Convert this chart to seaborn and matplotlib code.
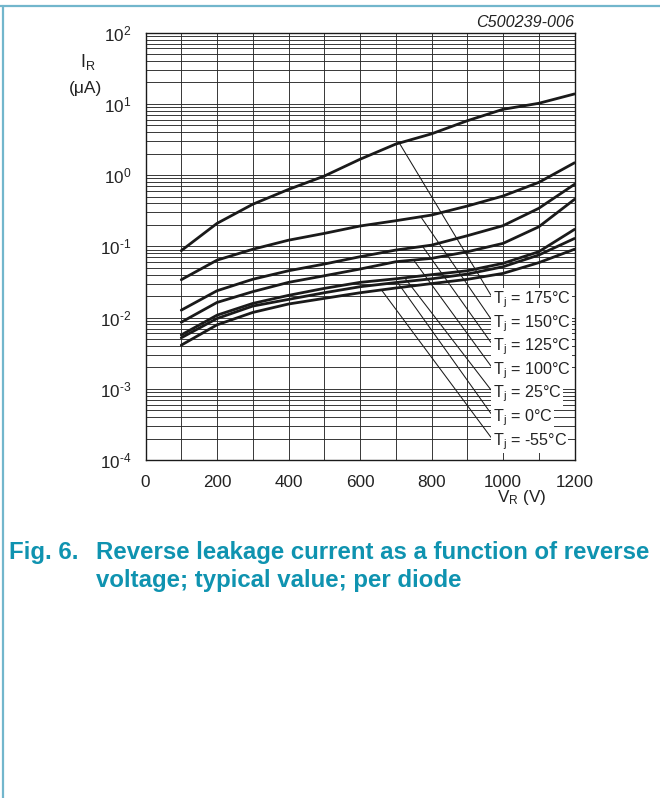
import numpy as np
import pandas as pd
import matplotlib
matplotlib.use("Agg")
import matplotlib.pyplot as plt
from matplotlib.ticker import MultipleLocator, LogLocator, NullFormatter, FixedLocator, FixedFormatter
from matplotlib.lines import Line2D
import seaborn as sns

# ---------------- data ----------------
voltage = [100, 200, 300, 400, 500, 600, 700, 800, 900, 1000, 1100, 1200]
ir_175 = [0.087, 0.21, 0.39, 0.63, 0.97, 1.67, 2.73, 3.8, 5.8, 8.4, 10.2, 13.8]
ir_150 = [0.034, 0.064, 0.091, 0.122, 0.152, 0.193, 0.229, 0.275, 0.368, 0.509, 0.79, 1.49]
ir_125 = [0.0127, 0.0238, 0.0345, 0.0454, 0.0564, 0.0715, 0.0887, 0.104, 0.141, 0.195, 0.342, 0.743]
ir_100 = [0.0086, 0.0163, 0.0231, 0.0312, 0.0386, 0.048, 0.0608, 0.0678, 0.0839, 0.110, 0.188, 0.457]
ir_25 = [0.0057, 0.0108, 0.0158, 0.0205, 0.0257, 0.0312, 0.035, 0.040, 0.0454, 0.0577, 0.084, 0.173]
ir_0 = [0.0052, 0.0097, 0.0145, 0.018, 0.0223, 0.0271, 0.031, 0.035, 0.0408, 0.0517, 0.0755, 0.129]
ir_m55 = [0.0041, 0.0079, 0.0118, 0.0155, 0.0186, 0.0223, 0.026, 0.030, 0.0344, 0.0417, 0.059, 0.091]

temps = ["175", "150", "125", "100", "25", "0", "-55"]
series = [ir_175, ir_150, ir_125, ir_100, ir_25, ir_0, ir_m55]
# voltage where each leader line touches its curve
leader_v = [710, 770, 775, 750, 725, 705, 660]

x_ticks = [0, 200, 400, 600, 800, 1000, 1200]
y_ticks = [1e-4, 1e-3, 1e-2, 1e-1, 1e0, 1e1, 1e2]
y_ticklabels = [r"$10^{\text{-4}}$", r"$10^{\text{-3}}$", r"$10^{\text{-2}}$", r"$10^{\text{-1}}$",
                r"$10^{0}$", r"$10^{1}$", r"$10^{2}$"]

caption_1 = "Fig. 6."
caption_2 = "Reverse leakage current as a function of reverse"
caption_3 = "voltage; typical value; per diode"
code_label = "C500239-006"

# ---------------- style ----------------
sns.set_style("white")
plt.rcParams["font.family"] = ["Liberation Sans", "DejaVu Sans"]
plt.rcParams["mathtext.fontset"] = "custom"
plt.rcParams["mathtext.rm"] = "Liberation Sans"
plt.rcParams["mathtext.it"] = "Liberation Sans:italic"
plt.rcParams["mathtext.default"] = "regular"

W, H = 660, 798
fig = plt.figure(figsize=(W / 100, H / 100), dpi=100)
fig.patch.set_facecolor("white")

x0, x1, ytop, ybot = 145.5, 574.5, 32.7, 460.0
ax = fig.add_axes([x0 / W, 1 - ybot / H, (x1 - x0) / W, (ybot - ytop) / H])

df = pd.concat([pd.DataFrame({"V": voltage, "I": s, "T": t}) for t, s in zip(temps, series)])
sns.lineplot(data=df, x="V", y="I", hue="T", hue_order=temps,
             palette=["#1a1a1a"] * len(temps), linewidth=2.0, legend=False, ax=ax, zorder=3)

ax.set_yscale("log")
ax.set_xlim(0, 1200)
ax.set_ylim(1e-4, 1e2)

ax.xaxis.set_major_locator(FixedLocator(x_ticks))
ax.xaxis.set_minor_locator(MultipleLocator(100))
ax.yaxis.set_major_locator(FixedLocator(y_ticks))
ax.yaxis.set_major_formatter(FixedFormatter(y_ticklabels))
ax.yaxis.set_minor_locator(LogLocator(base=10, subs=np.arange(2, 10)))
ax.yaxis.set_minor_formatter(NullFormatter())

ax.grid(True, which="both", color="#2a2a2a", linewidth=0.65)
ax.tick_params(which="both", length=0, labelsize=12.3, colors="#222222")
ax.tick_params(axis="x", pad=10.5)
ax.tick_params(axis="y", pad=10)
for sp in ax.spines.values():
    sp.set_color("#1a1a1a")
    sp.set_linewidth(1.0)
ax.set_xlabel("")
ax.set_ylabel("")

# leader lines + labels
label_y_px = [300.0, 323.3, 346.8, 370.3, 394.0, 417.8, 441.5]
for t, s, lv, ly in zip(temps, series, leader_v, label_y_px):
    iy = 10 ** np.interp(lv, voltage, np.log10(s))
    yf = (ybot - ly) / (ybot - ytop)
    ax.annotate(r"$T_j$ = " + t + "°C", xy=(lv, iy), xycoords="data",
                xytext=(0.809, yf), textcoords="axes fraction",
                ha="left", va="center", fontsize=11.6, color="#222222",
                bbox=dict(boxstyle="square,pad=0.1", fc="white", ec="none"),
                arrowprops=dict(arrowstyle="-", lw=0.75, color="#1a1a1a",
                                shrinkA=0, shrinkB=0, relpos=(0, 0.6)),
                zorder=5)

# axis titles
fig.text(80 / W, 1 - 62 / H, r"$I_R$", fontsize=13, color="#222222", ha="left", va="center")
fig.text(85 / W, 1 - 88 / H, "(μA)", fontsize=12.5, color="#222222", ha="center", va="center")
fig.text(522 / W, 1 - 497 / H, r"$V_R$ (V)", fontsize=12.3, color="#222222", ha="center", va="center")
fig.text(574 / W, 1 - 22.5 / H, code_label, fontsize=11.6, style="italic", color="#222222",
         ha="right", va="center")

# caption
cap_color = "#0f93b0"
cap_size = 17.3
fig.text(9 / W, 1 - 553 / H, caption_1, fontsize=cap_size, fontweight="bold", color=cap_color, ha="left", va="center")
fig.text(96 / W, 1 - 553 / H, caption_2, fontsize=cap_size, fontweight="bold", color=cap_color, ha="left", va="center")
fig.text(96 / W, 1 - 580 / H, caption_3, fontsize=cap_size, fontweight="bold", color=cap_color, ha="left", va="center")

# page border lines
border = "#72b6cc"
fig.add_artist(Line2D([0, 1], [1 - 5.5 / H, 1 - 5.5 / H], transform=fig.transFigure, color=border, lw=1.6))
fig.add_artist(Line2D([2.5 / W, 2.5 / W], [0, 1 - 5.5 / H], transform=fig.transFigure, color=border, lw=1.6))

fig.savefig("out.png", dpi=100, facecolor="white")
